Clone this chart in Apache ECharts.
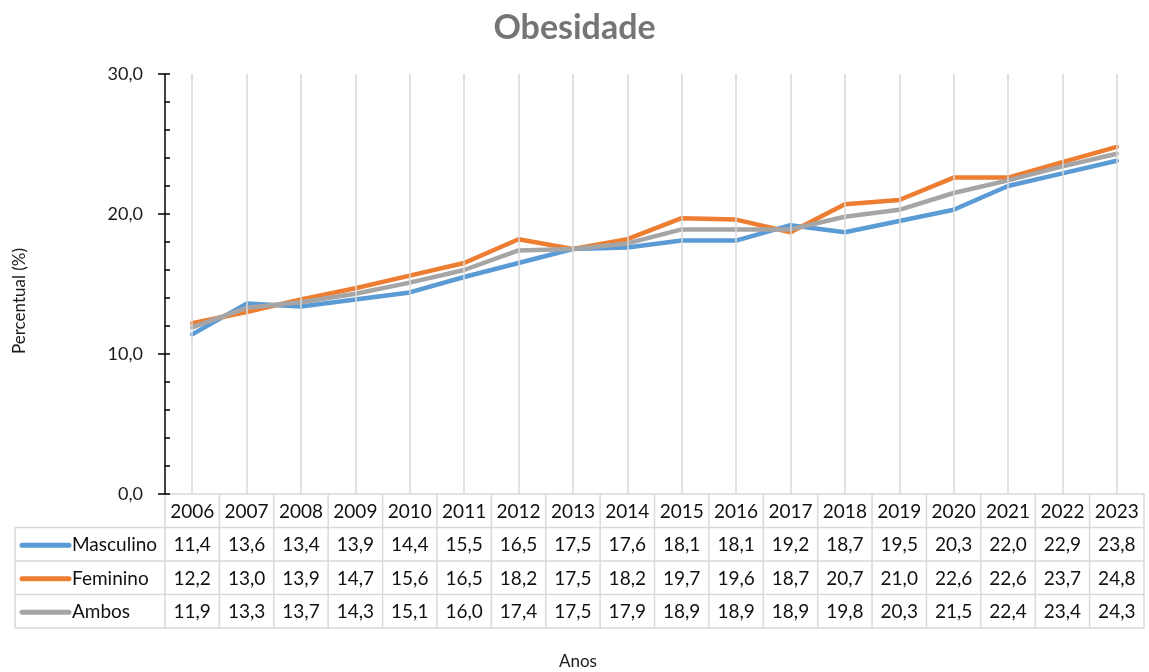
<!DOCTYPE html>
<html>
<head>
<meta charset="utf-8">
<script src="https://cdn.jsdelivr.net/npm/echarts@6/dist/echarts.min.js"></script>
<style>
html, body { margin: 0; padding: 0; background: #fff; }
#chart { width: 1149px; height: 672px; }
</style>
</head>
<body>
<div id="chart"></div>
<script>
// data
var anos = ['2006', '2007', '2008', '2009', '2010', '2011', '2012', '2013', '2014',
            '2015', '2016', '2017', '2018', '2019', '2020', '2021', '2022', '2023'];
var masculino = [11.4, 13.6, 13.4, 13.9, 14.4, 15.5, 16.5, 17.5, 17.6, 18.1, 18.1, 19.2, 18.7, 19.5, 20.3, 22.0, 22.9, 23.8];
var feminino  = [12.2, 13.0, 13.9, 14.7, 15.6, 16.5, 18.2, 17.5, 18.2, 19.7, 19.6, 18.7, 20.7, 21.0, 22.6, 22.6, 23.7, 24.8];
var ambos     = [11.9, 13.3, 13.7, 14.3, 15.1, 16.0, 17.4, 17.5, 17.9, 18.9, 18.9, 18.9, 19.8, 20.3, 21.5, 22.4, 23.4, 24.3];
var nomes = ['Masculino', 'Feminino', 'Ambos'];
var yMax = 30;

var cores = ['#5B9BD5', '#ED7D31', '#A5A5A5'];
var fonte = 'Lato, "Open Sans", sans-serif';
var corGrade = '#d9d9d9';

function fmt(v) {
    return v.toFixed(1).replace('.', ',');
}

var myChart = echarts.init(document.getElementById('chart'));
var valores = [masculino, feminino, ambos];

var series = [{
    // only carries the vertical gridlines at the category centers
    type: 'line',
    data: [],
    z: 1,
    silent: true,
    markLine: {
        silent: true,
        symbol: ['none', 'none'],
        label: { show: false },
        lineStyle: { color: corGrade, type: 'solid', width: 1.5 },
        data: anos.map(function(a) { return { xAxis: a }; })
    }
}];
for (var i = 0; i < nomes.length; i++) {
    series.push({
        name: nomes[i],
        type: 'line',
        data: valores[i],
        z: 3,
        symbol: 'none',
        lineStyle: { color: cores[i], width: 4.5, cap: 'round', join: 'round' },
        itemStyle: { color: cores[i] }
    });
}

var option = {
    animation: false,
    title: {
        text: 'Obesidade',
        left: 'center',
        top: 6,
        textStyle: { fontFamily: fonte, fontSize: 34, fontWeight: 'bold', color: '#757575' }
    },
    grid: { left: 165, right: 5, top: 74, bottom: 178 },
    xAxis: {
        type: 'category',
        data: anos,
        boundaryGap: true,
        axisLine: { show: false },
        axisTick: { show: false },
        axisLabel: { show: false },
        splitLine: { show: false }
    },
    yAxis: [{
        type: 'value',
        min: 0,
        max: yMax,
        interval: 10,
        axisLine: { show: true, lineStyle: { color: '#000', width: 1.5 } },
        axisTick: { show: true, length: 7, lineStyle: { color: '#000', width: 1.5 } },
        axisLabel: {
            margin: 22,
            fontFamily: fonte,
            fontSize: 18,
            color: '#1a1a1a',
            formatter: function(v) { return fmt(v); }
        },
        splitLine: { show: false }
    }, {
        type: 'value',
        position: 'left',
        min: 0,
        max: yMax,
        interval: 2,
        axisLine: { show: false },
        axisTick: { show: true, inside: true, length: 5, lineStyle: { color: '#000', width: 1.5 } },
        axisLabel: { show: false },
        splitLine: { show: false }
    }],
    series: series
};

myChart.setOption(option);

// data table under the plot, placed from the axis scale
function buildTable() {
    var xs = anos.map(function(a) { return myChart.convertToPixel({ xAxisIndex: 0 }, a); });
    var passo = xs[1] - xs[0];
    var xL = xs[0] - passo / 2;
    var xR = xs[xs.length - 1] + passo / 2;
    var y0 = myChart.convertToPixel({ yAxisIndex: 0 }, 0);
    var hRow = 33.5;
    var xLeg = 15;
    var els = [];
    var linha = function(x1, y1, x2, y2) {
        els.push({
            type: 'line',
            shape: { x1: x1, y1: y1, x2: x2, y2: y2 },
            style: { stroke: corGrade, lineWidth: 1.5 },
            silent: true
        });
    };
    var texto = function(t, x, y, align) {
        els.push({
            type: 'text',
            x: x, y: y,
            style: {
                text: t, fill: '#111', font: '19px ' + fonte,
                align: align || 'center', verticalAlign: 'middle'
            },
            silent: true
        });
    };
    var yEnd = y0 + hRow * 4;

    // horizontal borders
    linha(xL, y0, xR, y0);
    for (var r = 1; r <= 4; r++) {
        linha(xLeg, y0 + hRow * r, xR, y0 + hRow * r);
    }
    // vertical borders
    linha(xLeg, y0 + hRow, xLeg, yEnd);
    for (var c = 0; c <= anos.length; c++) {
        var xx = xL + passo * c;
        linha(xx, y0, xx, yEnd);
    }
    // header
    for (var j = 0; j < anos.length; j++) {
        texto(anos[j], xs[j], y0 + hRow / 2 + 1);
    }
    // rows
    for (var k = 0; k < nomes.length; k++) {
        var yc = y0 + hRow * (k + 1.5) + 1;
        els.push({
            type: 'line',
            shape: { x1: xLeg + 7, y1: yc, x2: xLeg + 54, y2: yc },
            style: { stroke: cores[k], lineWidth: 5, lineCap: 'round' },
            silent: true
        });
        texto(nomes[k], xLeg + 57, yc, 'left');
        for (var j2 = 0; j2 < anos.length; j2++) {
            texto(fmt(valores[k][j2]), xs[j2], yc);
        }
    }
    // axis titles
    els.push({
        type: 'text',
        x: 20, y: 301,
        rotation: Math.PI / 2,
        style: {
            text: 'Percentual (%)', fill: '#1a1a1a', font: '17px ' + fonte,
            align: 'center', verticalAlign: 'middle'
        },
        silent: true
    });
    els.push({
        type: 'text',
        x: 578, y: 662,
        style: {
            text: 'Anos', fill: '#1a1a1a', font: '17px ' + fonte,
            align: 'center', verticalAlign: 'middle'
        },
        silent: true
    });
    myChart.setOption({ graphic: els });
}

buildTable();
</script>
</body>
</html>
